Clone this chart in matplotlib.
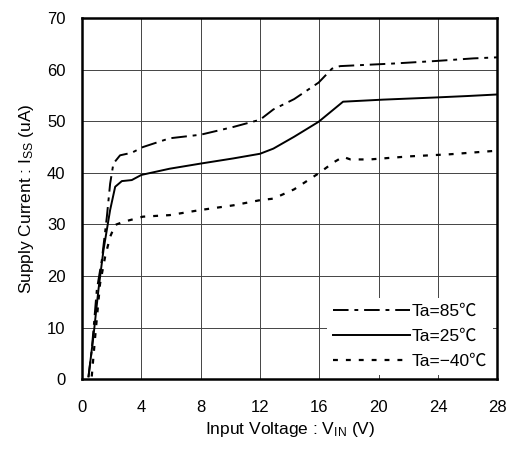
import matplotlib
matplotlib.use("Agg")
from matplotlib import pyplot as plt

plt.rcParams['font.family'] = ['Liberation Sans', 'Noto Sans CJK JP', 'DejaVu Sans']
plt.rcParams['mathtext.default'] = 'regular'

# Ta=85C (dash-dot)
v_85 = [0.43, 0.65, 0.99, 1.33, 1.67, 1.89, 2.11, 2.56, 3.35, 4.1, 5.9, 8.0, 10.2,
        12.0, 12.9, 14.3, 15.95, 16.85, 17.4, 21.0, 23.9, 26.4, 28.0]
i_85 = [0.4, 5.6, 17.3, 23.1, 31.5, 37.9, 41.8, 43.4, 43.9, 45.0, 46.7, 47.4, 48.9,
        50.3, 52.3, 54.3, 57.5, 60.2, 60.7, 61.2, 61.7, 62.2, 62.4]

# Ta=25C (solid)
v_25 = [0.43, 0.76, 1.1, 1.44, 1.89, 2.23, 2.68, 3.35, 4.0, 5.9, 8.0, 10.2, 12.0,
        12.9, 14.3, 15.95, 17.6, 20.3, 23.7, 26.0, 28.0]
i_25 = [0.5, 8.2, 17.3, 25.0, 32.8, 37.3, 38.4, 38.6, 39.6, 40.8, 41.8, 42.8, 43.7,
        44.7, 47.0, 49.9, 53.8, 54.2, 54.6, 54.9, 55.2]

# Ta=-40C (dotted)
v_m40 = [0.65, 0.88, 1.21, 1.55, 1.89, 2.23, 2.79, 4.1, 5.9, 8.0, 10.2, 12.0, 12.9,
         14.3, 15.95, 17.0, 17.6, 18.1, 19.4, 22.1, 24.8, 28.0]
i_m40 = [0.5, 8.2, 18.5, 23.7, 27.6, 29.9, 30.5, 31.5, 31.8, 32.8, 33.7, 34.7, 35.0,
         36.8, 39.9, 42.1, 43.1, 42.6, 42.6, 43.2, 43.6, 44.3]

x_ticks = [0, 4, 8, 12, 16, 20, 24, 28]
y_ticks = [0, 10, 20, 30, 40, 50, 60, 70]

fig = plt.figure(figsize=(5.1, 4.54), dpi=100)
ax = fig.add_axes([0.161, 0.165, 0.814, 0.795])

ax.plot(v_85, i_85, color='black', lw=1.4, linestyle=(0, (8, 3, 2, 3)), label='Ta=85℃')
ax.plot(v_25, i_25, color='black', lw=1.4, linestyle='-', label='Ta=25℃')
ax.plot(v_m40, i_m40, color='black', lw=1.6, linestyle=(0, (2.2, 3.6)), label='Ta=\u221240℃')

ax.set_xlim(0, 28)
ax.set_ylim(0, 70)
ax.set_xticks(x_ticks)
ax.set_yticks(y_ticks)
ax.grid(True, color='#444444', lw=0.7)
ax.tick_params(length=0, labelsize=12)
ax.tick_params(axis='x', pad=15)
ax.tick_params(axis='y', pad=12)
for s in ax.spines.values():
    s.set_linewidth(1.8)

ax.set_xlabel('Input Voltage : V$_{IN}$ (V)', fontsize=12.5, labelpad=4)
ax.set_ylabel('Supply Current : I$_{SS}$ (uA)', fontsize=12.5, labelpad=8)

leg = ax.legend(loc='lower right', fontsize=12.5, frameon=True, fancybox=False,
                edgecolor='white', framealpha=1, handlelength=4.4, handletextpad=0.1,
                borderaxespad=0.25, labelspacing=0.55, borderpad=0.35)
leg.get_frame().set_linewidth(0)

plt.savefig("out.png", dpi=100)
